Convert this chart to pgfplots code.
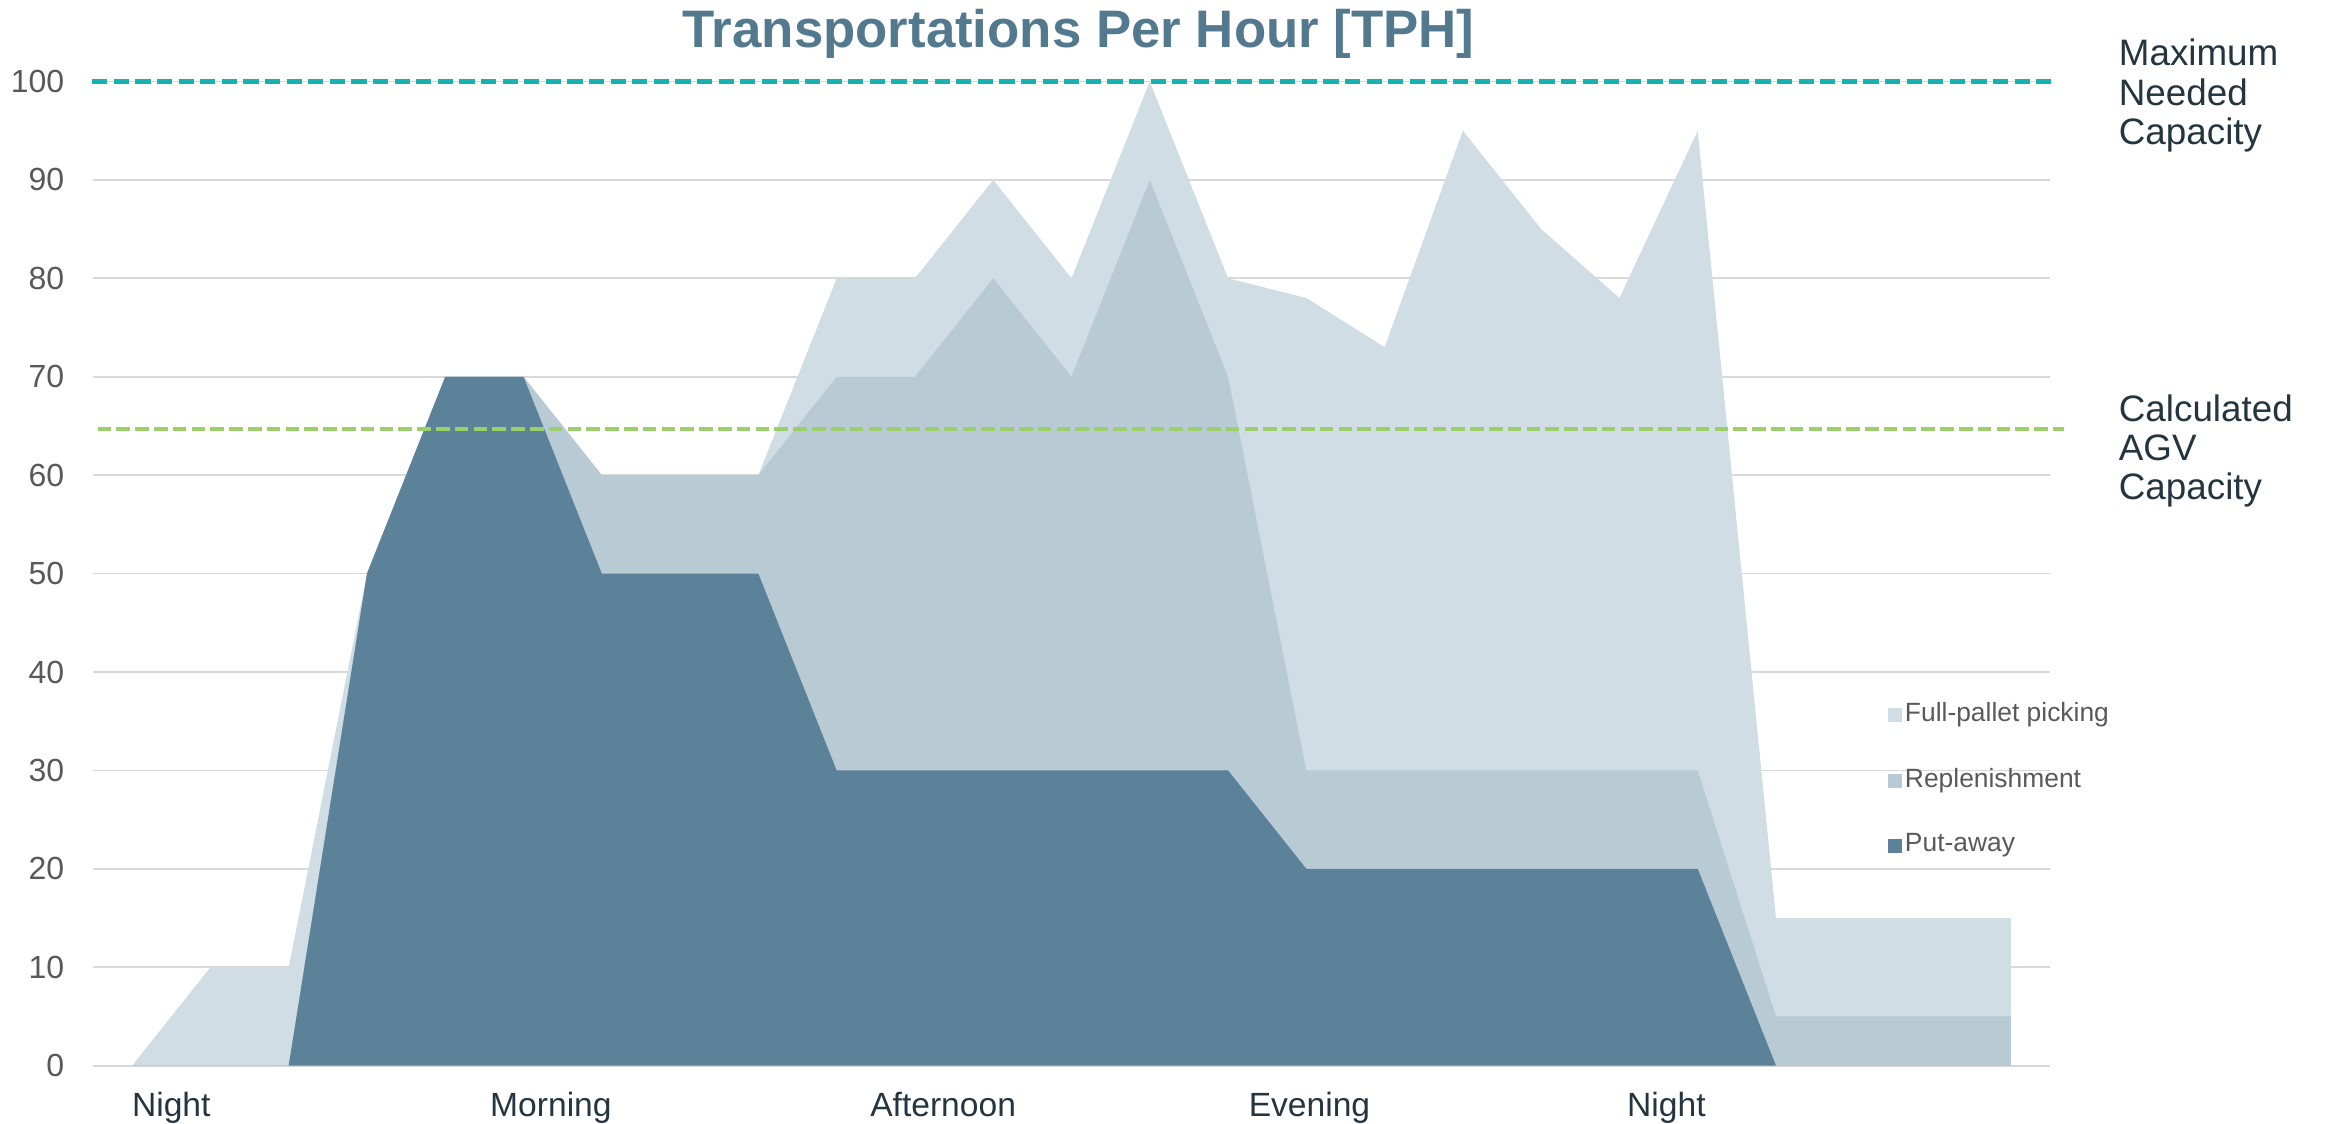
\documentclass[border=0pt]{standalone}
\usepackage{fontspec}
\setmainfont{Liberation Sans}
\usepackage{pgfplots}
\pgfplotsset{compat=1.18}
\definecolor{cLight}{HTML}{D0DDE4}
\definecolor{cMed}{HTML}{B8CAD4}
\definecolor{cDark}{HTML}{5B8299}
\definecolor{cTeal}{HTML}{17B1AE}
\definecolor{cGreen}{HTML}{9BCF6A}
\definecolor{cGrid}{HTML}{D9D9D9}
\definecolor{cTick}{HTML}{595959}
\definecolor{cTitle}{HTML}{52798D}
\definecolor{cText}{HTML}{25353F}
\begin{document}
\begin{tikzpicture}
\useasboundingbox (0,0) rectangle (581.25pt,281pt);
\begin{axis}[
  at={(23.25pt,14.575pt)}, anchor=south west,
  scale only axis, width=489.25pt, height=246.05pt,
  xmin=-0.5, xmax=24.5, ymin=0, ymax=100,
  clip=false,
  axis line style={draw=none},
  major tick length=0pt,
  ytick={0,10,...,100},
  ymajorgrids, grid style={cGrid, line width=0.45pt},
  xtick={0.5,5.35,10.36,15.04,19.6},
  xticklabels={Night,Morning,Afternoon,Evening,Night},
  x tick label style={font=\fontsize{8.4}{10}\selectfont, text=cText, inner sep=0pt, anchor=north, yshift=-6.5pt},
  y tick label style={font=\fontsize{8}{10}\selectfont, text=cTick, inner sep=0pt, anchor=east, xshift=-7pt},
  /pgf/number format/assume math mode=true,
  legend style={at={(rel axis cs:0.9167,0.373)}, anchor=north west, draw=none, fill=none,
    font=\fontsize{6.6}{7.7}\selectfont, text=cTick, row sep=8.5pt, inner sep=0pt, nodes={inner sep=0.8pt}},
  legend cell align=left,
  legend image code/.code={\path[#1,draw=none] (0pt,-1.75pt) rectangle (3.5pt,1.75pt);},
]
\addplot[fill=cLight, draw=none] coordinates {
(0,0)(1,10)(2,10)(3,50)(4,70)(5,70)(6,60)(7,60)(8,60)(9,80)(10,80)(11,90)(12,80)
(13,100)(14,80)(15,78)(16,73)(17,95)(18,85)(19,78)(20,95)(21,15)(22,15)(23,15)(24,15)} \closedcycle;
\addlegendentry{Full-pallet picking}
\addplot[fill=cMed, draw=none] coordinates {
(0,0)(1,0)(2,0)(3,50)(4,70)(5,70)(6,60)(7,60)(8,60)(9,70)(10,70)(11,80)(12,70)
(13,90)(14,70)(15,30)(16,30)(17,30)(18,30)(19,30)(20,30)(21,5)(22,5)(23,5)(24,5)} \closedcycle;
\addlegendentry{Replenishment}
\addplot[fill=cDark, draw=none] coordinates {
(0,0)(1,0)(2,0)(3,50)(4,70)(5,70)(6,50)(7,50)(8,50)(9,30)(10,30)(11,30)(12,30)
(13,30)(14,30)(15,20)(16,20)(17,20)(18,20)(19,20)(20,20)(21,0)(22,0)(23,0)(24,0)} \closedcycle;
\addlegendentry{Put-away}
\addplot[cTeal, line width=1.2pt, dash pattern=on 3.8pt off 1.6pt, forget plot] coordinates {(-0.51,100)(24.54,100)};
\addplot[cGreen, line width=1pt, dash pattern=on 3.4pt off 1.3pt, forget plot] coordinates {(-0.44,64.7)(24.68,64.7)};
\node[anchor=base, font=\fontsize{13.2}{15}\selectfont\bfseries, text=cTitle, inner sep=0pt] at (rel axis cs:0.5036,1.0345) {Transportations Per Hour [TPH]};
\begin{scope}[every node/.style={anchor=base west, font=\fontsize{9.2}{11}\selectfont, text=cText, inner sep=0pt}]
\node at (axis cs:25.37,101.6) {Maximum};
\node at (axis cs:25.37,97.6) {Needed};
\node at (axis cs:25.37,93.6) {Capacity};
\node at (axis cs:25.37,65.5) {Calculated};
\node at (axis cs:25.37,61.5) {AGV};
\node at (axis cs:25.37,57.5) {Capacity};
\end{scope}
\end{axis}
\end{tikzpicture}
\end{document}
